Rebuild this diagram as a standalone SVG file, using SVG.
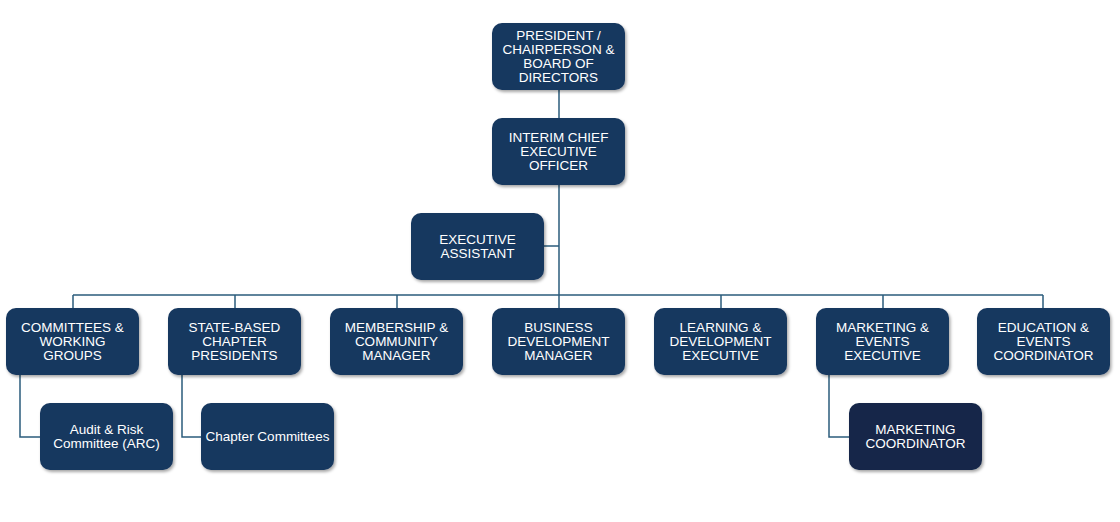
<svg xmlns="http://www.w3.org/2000/svg" width="1120" height="522" viewBox="0 0 1120 522">
<style>
.b{fill:#17375E;filter:url(#sh)}
.d{fill:#14284A;filter:url(#sh)}
.t{fill:#fff;font-family:"Liberation Sans",Arial,sans-serif;font-size:13.5px;text-anchor:middle}
.c{fill:none;stroke:#2B5C7C;stroke-width:1.5}
</style>
<defs>
<filter id="sh" x="-10%" y="-10%" width="130%" height="130%">
<feDropShadow dx="1.5" dy="2" stdDeviation="1.8" flood-color="#000" flood-opacity="0.35"/>
</filter>
</defs>
<rect width="1120" height="522" fill="#fff"/>
<g id="connectors">
<path class="c" d="M559 90V118M559 185V295M544 246H559M73 295H1043M73 295V308M235 295V308M397 295V308M559 295V308M721 295V308M883 295V308M1043 295V308"/>
<path class="c" d="M20 375V437H40M182 375V437H201M829 375V437H849"/>
</g>
<g id="president"><rect class="b" x="492" y="23" width="133" height="67" rx="10"/><text class="t" x="558.5" y="40">PRESIDENT /</text><text class="t" x="558.5" y="54">CHAIRPERSON &amp;</text><text class="t" x="558.5" y="68">BOARD OF</text><text class="t" x="558.5" y="82">DIRECTORS</text></g>
<g id="ceo"><rect class="b" x="492" y="118" width="133" height="67" rx="10"/><text class="t" x="558.5" y="142">INTERIM CHIEF</text><text class="t" x="558.5" y="156">EXECUTIVE</text><text class="t" x="558.5" y="170">OFFICER</text></g>
<g id="ea"><rect class="b" x="411" y="213" width="133" height="67" rx="10"/><text class="t" x="477.5" y="244">EXECUTIVE</text><text class="t" x="477.5" y="258">ASSISTANT</text></g>
<g id="committees"><rect class="b" x="6" y="308" width="133" height="67" rx="10"/><text class="t" x="72.5" y="332">COMMITTEES &amp;</text><text class="t" x="72.5" y="346">WORKING</text><text class="t" x="72.5" y="360">GROUPS</text></g>
<g id="chapters"><rect class="b" x="168" y="308" width="133" height="67" rx="10"/><text class="t" x="234.5" y="332">STATE-BASED</text><text class="t" x="234.5" y="346">CHAPTER</text><text class="t" x="234.5" y="360">PRESIDENTS</text></g>
<g id="membership"><rect class="b" x="330" y="308" width="133" height="67" rx="10"/><text class="t" x="396.5" y="332">MEMBERSHIP &amp;</text><text class="t" x="396.5" y="346">COMMUNITY</text><text class="t" x="396.5" y="360">MANAGER</text></g>
<g id="bizdev"><rect class="b" x="492" y="308" width="133" height="67" rx="10"/><text class="t" x="558.5" y="332">BUSINESS</text><text class="t" x="558.5" y="346">DEVELOPMENT</text><text class="t" x="558.5" y="360">MANAGER</text></g>
<g id="learning"><rect class="b" x="654" y="308" width="133" height="67" rx="10"/><text class="t" x="720.5" y="332">LEARNING &amp;</text><text class="t" x="720.5" y="346">DEVELOPMENT</text><text class="t" x="720.5" y="360">EXECUTIVE</text></g>
<g id="marketing"><rect class="b" x="816" y="308" width="133" height="67" rx="10"/><text class="t" x="882.5" y="332">MARKETING &amp;</text><text class="t" x="882.5" y="346">EVENTS</text><text class="t" x="882.5" y="360">EXECUTIVE</text></g>
<g id="education"><rect class="b" x="977" y="308" width="133" height="67" rx="10"/><text class="t" x="1043.5" y="332">EDUCATION &amp;</text><text class="t" x="1043.5" y="346">EVENTS</text><text class="t" x="1043.5" y="360">COORDINATOR</text></g>
<g id="arc"><rect class="b" x="40" y="403" width="133" height="67" rx="10"/><text class="t" x="106.5" y="434">Audit &amp; Risk</text><text class="t" x="106.5" y="448">Committee (ARC)</text></g>
<g id="chaptercommittees"><rect class="b" x="201" y="403" width="133" height="67" rx="10"/><text class="t" x="267.5" y="441">Chapter Committees</text></g>
<g id="mktcoord"><rect class="d" x="849" y="403" width="133" height="67" rx="10"/><text class="t" x="915.5" y="434">MARKETING</text><text class="t" x="915.5" y="448">COORDINATOR</text></g>
</svg>
